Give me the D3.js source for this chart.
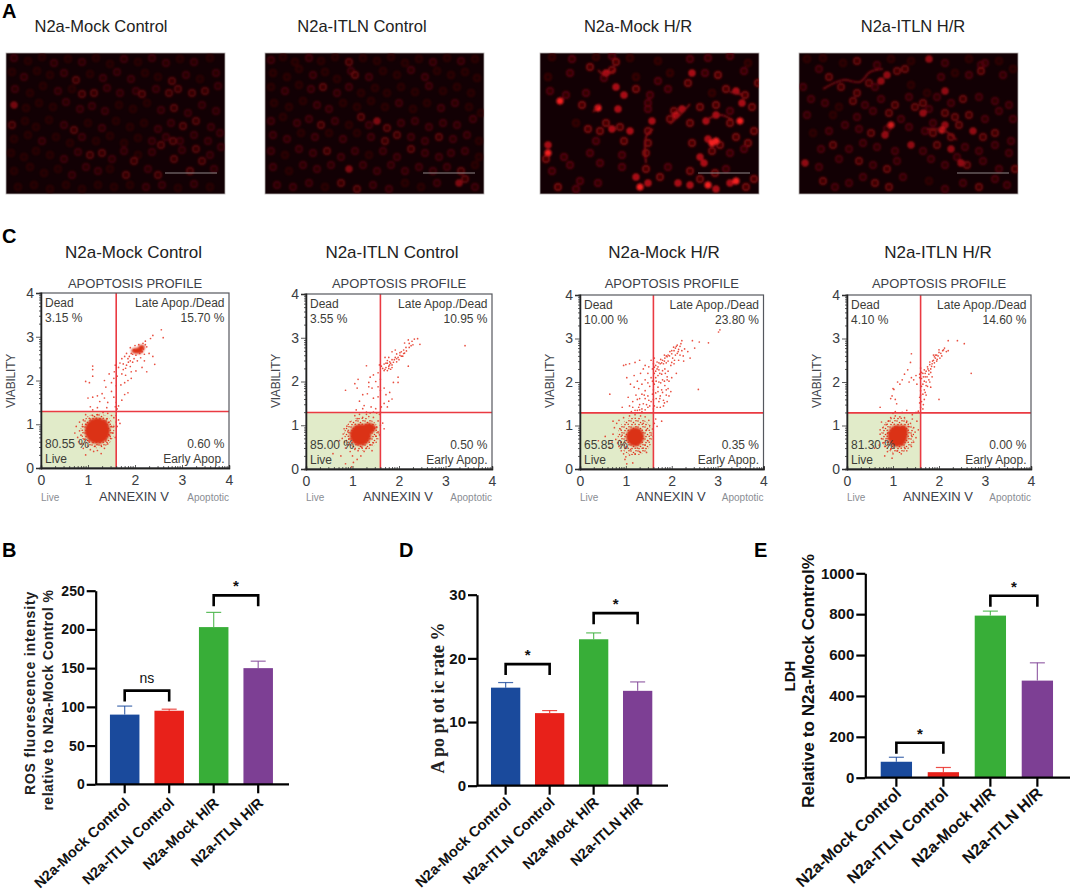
<!DOCTYPE html>
<meta charset="utf-8">
<script src="https://d3js.org/d3.v7.min.js"></script>
<style>
body { margin: 0; background: #fff; }
svg { display: block; }
text { font-family: "Liberation Sans", Arial, sans-serif; }
</style>
<div id="figure"></div>
<script>

const groups = ["N2a-Mock Control", "N2a-ITLN Control", "N2a-Mock H/R", "N2a-ITLN H/R"];
const barColors = ["#1a4a9c", "#e8211a", "#38ae38", "#7d3f94"];

// bar panels
const rosValues = [90, 95, 203, 150];
const rosErrors = [101, 97, 222, 159];
const rosTicks = [0, 50, 100, 150, 200, 250];
const rosBrackets = [[0, 1, 121, "ns"], [2, 3, 244, "*"]];

const apoValues = [15.4, 11.4, 23, 14.9];
const apoErrors = [16.2, 11.8, 24, 16.3];
const apoTicks = [0, 10, 20, 30];
const apoBrackets = [[0, 1, 19.1, "*"], [2, 3, 27.1, "*"]];

const ldhValues = [78, 27, 793, 475];
const ldhErrors = [100, 50, 815, 562];
const ldhTicks = [0, 200, 400, 600, 800, 1000];
const ldhBrackets = [[0, 1, 171, "*"], [2, 3, 890, "*"]];

// flow cytometry quadrant percentages: dead, late, live, early
const quadrants = [
  ["3.15 %", "15.70 %", "80.55 %", "0.60 %"],
  ["3.55 %", "10.95 %", "85.00 %", "0.50 %"],
  ["10.00 %", "23.80 %", "65.85 %", "0.35 %"],
  ["4.10 %", "14.60 %", "81.30 %", "0.00 %"]
];
const gateX = 1.6;
const gateY = 1.29;
const majorTicks = [0, 1, 2, 3, 4];
const minorTicks = [0.3, 0.48, 0.6, 0.7, 0.78, 0.85, 0.9, 0.95, 1.3, 1.48, 1.6, 1.7, 1.78, 1.85, 1.9, 1.95, 2.3, 2.48, 2.6, 2.7, 2.78, 2.85, 2.9, 2.95, 3.3, 3.48, 3.6, 3.7, 3.78, 3.85, 3.9, 3.95];

// speckled halo and solid centres of the clouds, cx cy rx ry
const halo1 = [[1.2, 0.85, 0.36, 0.4]];
const halo2 = [[1.2, 0.8, 0.38, 0.38]];
const halo3 = [[1.2, 0.75, 0.38, 0.44]];
const halo4 = [[1.1, 0.78, 0.36, 0.42]];
const clouds1 = [[1.2, 0.85, 0.27, 0.3], [1.3, 0.97, 0.14, 0.15], [2.05, 2.68, 0.13, 0.07], [2.14, 2.76, 0.07, 0.06]];
const clouds2 = [[1.17, 0.78, 0.23, 0.25], [1.35, 0.93, 0.15, 0.13]];
const clouds3 = [[1.2, 0.74, 0.2, 0.22]];
const clouds4 = [[1.1, 0.76, 0.22, 0.25], [1.22, 0.86, 0.11, 0.15]];

const dots1 = [[2.56,3.16],[2.6,2.98],[2.38,3.03],[2.33,2.96],[2.22,2.9],[2.25,2.77],[2.17,2.85],[2.3,2.62],[2.38,2.55],[2.42,2.37],[2.2,2.45],[2.12,2.52],[2.2,2.6],[2.08,2.82],[2,2.8],[1.9,2.75],[1.82,2.62],[1.78,2.55],[1.85,2.5],[1.9,2.45],[1.98,2.5],[1.72,2.5],[1.68,2.4],[1.75,2.38],[1.82,2.35],[1.9,2.32],[2.02,2.22],[2.15,2.3],[2.25,2.2],[1.65,2.3],[1.58,2.35],[1.56,2.2],[1.62,2.1],[1.72,2.15],[1.8,2.12],[1.85,2],[1.92,2.05],[1.78,1.95],[1.7,1.9],[1.6,1.88],[1.55,2.05],[1.45,2.15],[1.5,1.95],[1.35,2],[1.38,1.85],[1.1,2.33],[1.1,2.25],[1.1,2.1],[0.95,1.98],[1.03,1.95],[1,1.6],[1.1,1.62],[1.2,1.65],[1.3,1.7],[1.35,1.6],[1.25,1.52],[1.42,1.5],[1.5,1.75],[1.55,1.62],[1.6,1.5],[1.58,1.4],[1.65,1.42],[1.72,1.55],[1.78,1.68],[1.85,1.72],[1.62,1.35],[1.05,1.4],[1.2,1.38],[1.4,1.38],[1.1,1.33],
[0.75,0.95],[0.72,0.8],[0.78,0.7],[0.82,0.85],[0.8,0.6],[0.85,0.55],[0.9,0.45],[0.95,0.3],[1,0.5],[1.05,0.42],[1.12,0.38],[1.2,0.4],[1.28,0.33],[1.35,0.45],[1.42,0.55],[1.48,0.68],[1.52,0.8],[1.55,0.95],[1.6,1.05],[1.65,1.1],[1.68,1.02],[1.55,1.15],[1.5,1.2],[1.42,1.25],[1.32,1.27],[1.2,1.22],[1.1,1.2],[0.95,1.22],[0.9,1.1],[0.82,1.05],[0.88,0.95],[0.85,0.75],[0.92,0.65],[0.9,0.55],[1.05,1.12],[0.95,1],[1.45,1.05],[1.5,0.95],[1.45,0.75],[1.38,0.62],[1.28,0.52],[1.15,0.5],[1.02,0.62],[0.97,0.8],[0.98,0.92],[1.58,0.7],[1.62,0.95],[1.4,1.12],[1.25,1.12],[1.6,1.2],
[1.95,2.6],[1.98,2.7],[2.02,2.58],[2.1,2.62],[2.15,2.66],[1.92,2.62],[1.88,2.55],[2.18,2.72],[2.22,2.82],[1.95,2.42],[2.05,2.45],[1.86,2.42],[1.8,2.28],[1.92,2.2],[1.75,2.25]];

const dots2 = [[3.42,2.82],[2.4,2.98],[2.33,2.97],[2.45,2.85],[2.28,2.92],[2.22,2.87],[2.2,2.95],[2.12,2.88],[2.15,2.78],[2.22,2.78],[2.1,2.72],[2.05,2.68],[2.02,2.6],[2.08,2.58],[2.12,2.65],[1.98,2.55],[1.95,2.63],[1.92,2.72],[1.85,2.68],[1.9,2.5],[1.95,2.45],[1.85,2.5],[1.8,2.45],[1.75,2.42],[1.78,2.35],[1.85,2.38],[1.72,2.32],[1.68,2.25],[1.75,2.25],[1.82,2.28],[1.62,2.35],[1.68,2.4],[1.7,2.55],[1.78,2.55],[2.2,2.35],[1.98,2.1],[1.98,1.98],[1.88,1.98],[1.58,2.38],[1.3,2.36],[1.5,2],[1.45,2.15],[1.55,2.2],[1.6,2.05],[1.38,2.1],[1.35,1.98],[1.12,2.05],[1.05,1.95],[1.1,1.85],[0.85,1.8],[1.35,1.88],[1.42,1.85],[1.55,1.88],[1.6,1.8],[1.68,1.85],[1.72,1.7],[1.8,1.75],[1.85,1.6],[1.78,1.55],[1.68,1.5],[1.55,1.65],[1.45,1.62],[1.32,1.72],[1.22,1.7],[1.15,1.55],[1.25,1.45],[1.08,1.35],[1.15,1.25],[1.3,1.3],[1.4,1.42],[1.5,1.38],[1.62,1.42],[1.75,1.42],[1.58,1.25],[1.38,1.28],[1.22,1.38],
[0.8,0.8],[0.78,0.7],[0.83,0.62],[0.72,0.65],[0.85,0.48],[0.9,0.55],[0.95,0.4],[1,0.3],[1.05,0.45],[1.12,0.42],[1.18,0.3],[1.25,0.4],[1.3,0.48],[1.38,0.55],[1.45,0.6],[1.5,0.75],[1.55,0.85],[1.6,1],[1.65,1.05],[1.68,0.92],[1.55,1.1],[1.45,1.18],[1.35,1.2],[1.22,1.18],[1.1,1.15],[1.05,1.22],[0.95,1.08],[0.88,0.98],[0.82,0.92],[0.58,0.35],[0.75,0.3],[0.98,0.05],[0.85,0.12],[1.02,0.15],[1.1,0.22],[1.2,0.5],[1.42,0.42],[0.92,0.68],[0.9,0.85],[1.52,0.95],[1.58,0.78],[1.48,0.95],[1.3,1.25],
[1.8,2.38],[1.88,2.44],[1.92,2.55],[2,2.5],[2.05,2.58],[2.1,2.64],[1.75,2.48],[1.82,2.42],[1.7,2.28],[1.78,2.3],[1.65,2.3],[1.85,2.32],[1.72,2.42],[2.16,2.7],[2.26,2.82],[2.3,2.84],[2.02,2.66],[1.95,2.52],[1.6,1.3],[1.52,1.28],[1.45,1.3]];

const dots3 = [[3.05,3.2],[3.02,3.15],[2.8,2.9],[2.6,2.92],[2.45,2.95],[2.22,2.95],[2.2,2.88],[2.12,2.85],[2.08,2.78],[2.15,2.75],[2.22,2.72],[2.05,2.72],[2,2.65],[1.95,2.6],[2.02,2.55],[1.9,2.58],[1.85,2.55],[1.92,2.48],[1.8,2.5],[1.75,2.42],[1.82,2.42],[1.7,2.35],[1.65,2.38],[1.6,2.42],[1.58,2.3],[1.65,2.25],[1.72,2.28],[1.78,2.18],[1.85,2.3],[1.92,2.25],[1.98,2.38],[2.05,2.42],[2.15,2.5],[2.25,2.6],[2.4,2.55],[2.5,2.78],[2.35,2.7],[2.1,2.2],[2.58,1.83],[2,2.1],[1.9,2.05],[1.8,2.05],[1.72,2],[1.65,2.1],[1.62,1.95],[1.7,1.88],[1.78,1.82],[1.85,1.92],[1.92,1.85],[1.98,1.78],[1.88,1.7],[1.75,1.68],[1.65,1.75],[1.6,1.6],[1.72,1.55],[1.82,1.58],[1.9,1.55],[1.75,1.42],[1.62,1.45],[1.55,1.55],[1.48,1.68],[1.42,1.8],[1.35,1.72],[1.3,1.62],[1.38,1.5],[1.28,1.42],[1.2,1.35],[1.35,1.38],[1.48,1.42],[1.55,2.1],[1.48,2.2],[1.42,2.05],[1.32,2.2],[1.25,2.02],[1.18,2.15],[1.1,1.95],[1.02,2.1],[1,2.4],[0.95,2.38],[1.08,2.42],[1.2,2.45],[1.3,2.5],[1.42,2.38],[1.55,2.5],[1.62,2.55],[0.65,1.72],[1.05,1.65],[1.15,1.55],[1.22,1.7],[0.92,1.42],[1.35,1.32],[1.12,1.32],
[0.75,0.95],[0.72,0.8],[0.78,0.68],[0.82,0.6],[0.85,0.52],[0.7,0.62],[0.65,0.5],[0.9,0.42],[0.95,0.35],[1,0.28],[1.08,0.32],[1.15,0.14],[1.02,0.12],[0.98,0.22],[1.2,0.35],[1.3,0.4],[1.38,0.48],[1.42,0.55],[1.48,0.65],[1.55,0.78],[1.58,0.92],[1.62,1.05],[1.65,1.15],[1.5,1.12],[1.42,1.2],[1.32,1.22],[1.2,1.25],[1.08,1.22],[0.95,1.18],[0.85,1.12],[0.8,1.05],[0.88,0.92],[0.92,0.78],[0.9,0.62],[1,0.5],[1.1,0.45],[1.25,0.48],[1.45,0.9],[1.52,1],[1.38,1.05],[1.78,1.1],[1.68,0.98],[0.72,1.1],[1.45,0.38],[0.55,0.75],[0.4,0.65],
[1.92,2.62],[1.96,2.7],[1.88,2.6],[1.84,2.62],[2,2.72],[2.04,2.8],[2.1,2.82],[2.14,2.7],[2.18,2.82],[1.78,2.44],[1.84,2.48],[1.88,2.44],[1.76,2.52],[1.72,2.44],[1.68,2.46],[1.62,2.34],[1.68,2.3],[1.74,2.2],[1.8,2.26],[1.86,2.2],[1.9,2.12],[1.94,2.02],[1.84,2.02],[1.76,1.98],[1.66,2.02],[1.7,2.15],[1.62,2.2],[1.58,2.02],[1.52,1.9],[1.6,1.82],[1.7,1.78],[1.8,1.76],[1.88,1.82],[1.94,1.68],[1.84,1.52],[1.74,1.62],[1.66,1.62],[1.58,1.72],[1.5,1.58],[1.42,1.62],[1.45,1.48],[1.4,1.7],[1.3,1.48],[1.25,1.35],[1.3,1.36],[1.42,1.36],[1.52,1.45],[1.6,1.38],[1.68,1.42],[1.82,1.45],[1.35,1.95],[1.28,1.85],[1.18,1.88],[1.48,1.98],[1.38,2.3],[1.5,2.35],[2.08,2.62],[2.12,2.66],[2.06,2.5],[2,2.45],[2.26,2.48],[2.18,2.62],[2.28,2.76],[1.15,1.42],[1.25,1.6],[1.08,1.45]];

const dots4 = [[2.7,2.2],[2.55,2.88],[2.4,2.95],[2.2,2.95],[2.12,2.78],[2.2,2.72],[2.08,2.72],[2,2.68],[1.95,2.62],[2.02,2.55],[1.9,2.58],[1.88,2.5],[1.95,2.48],[1.85,2.42],[1.9,2.35],[1.8,2.4],[1.82,2.3],[1.75,2.35],[1.72,2.25],[1.78,2.18],[1.68,2.28],[1.65,2.2],[1.6,2.32],[1.58,2.18],[1.62,2.08],[1.7,2.12],[1.78,2.05],[1.85,2.12],[1.72,2],[1.65,1.95],[1.75,1.9],[1.82,1.88],[1.68,1.82],[1.6,1.8],[1.65,1.72],[1.72,1.7],[1.58,1.65],[1.62,1.55],[1.68,1.6],[1.6,1.42],[1.65,1.38],[2,1.6],[1.5,2.15],[1.45,2.05],[1.52,1.95],[1.4,2.1],[1.35,2],[1.2,2.05],[1.25,2.18],[1.1,2],[1.15,1.95],[1.02,1.83],[1,1.85],[0.98,1.68],[1.05,1.6],[1.08,1.5],[0.95,1.62],[0.72,1.42],[1.38,2.45],[1.4,2.65],[1.32,2.28],[1.3,1.35],[1.5,1.3],[1.2,1.3],[1.05,1.32],[1,1.28],[1.55,1.33],[1.42,1.25],
[0.72,0.8],[0.75,0.7],[0.78,0.6],[0.82,0.52],[0.72,0.9],[0.78,0.95],[0.85,1.02],[0.9,1.1],[0.75,1.08],[0.95,1.18],[1.05,1.22],[1.15,1.2],[1.25,1.18],[1.3,1.1],[1.38,1.05],[1.45,0.95],[1.48,0.85],[1.5,0.72],[1.45,0.62],[1.4,0.52],[1.3,0.42],[1.25,0.5],[1.18,0.35],[1.1,0.42],[1,0.35],[0.95,0.45],[0.88,0.4],[0.82,0.3],[0.98,0.25],[0.7,0.55],[0.6,0.48],[1.55,0.9],[1.52,1.1],[1.42,1.15],[1.33,0.98],[1.4,0.78],[0.9,0.62],[0.88,0.82],[0.85,0.7],
[1.86,2.48],[1.92,2.55],[1.98,2.6],[2.04,2.66],[1.96,2.52],[1.9,2.44],[1.84,2.36],[1.8,2.46],[1.76,2.3],[1.82,2.22],[1.7,2.2],[1.74,2.12],[1.66,2.12],[1.62,2.22],[1.58,2.1],[1.68,2.02],[1.8,2],[1.72,1.92],[1.62,1.9],[1.7,1.76],[1.6,1.7],[1.66,1.48],[1.58,1.52],[1.78,2.26],[1.92,2.62],[2.1,2.74],[2.16,2.7],[2,2.74],[1.88,2.62],[2.06,2.6]];

// micrograph cells, x y brightness, image size 219 x 141
const cells1 = [[8,5,2],[22,8,1],[36,4,1],[48,10,2],[62,6,1],[76,9,2],[90,5,1],[104,11,1],[118,6,2],[132,9,1],[146,5,2],[160,10,2],[174,6,1],[188,9,2],[204,5,1],[6,19,1],[18,24,2],[31,18,1],[44,22,1],[58,20,2],[70,27,3],[84,21,1],[97,25,2],[111,19,2],[125,26,2],[139,20,1],[152,24,1],[166,28,3],[180,22,2],[194,26,1],[210,20,2],[9,36,2],[24,40,1],[37,33,1],[52,38,2],[66,36,1],[76,41,3],[88,40,3],[101,35,2],[114,40,2],[130,38,2],[136,41,3],[150,36,2],[163,40,3],[172,36,3],[186,40,3],[199,38,3],[212,33,2],[8,52,4],[20,55,1],[33,50,1],[47,54,1],[60,49,2],[74,56,2],[86,53,2],[99,58,2],[113,52,1],[127,56,1],[141,50,1],[155,57,2],[168,55,3],[182,60,2],[196,52,2],[210,58,2],[6,72,3],[19,68,1],[30,74,1],[43,67,1],[58,72,2],[68,77,3],[82,70,1],[96,75,2],[110,68,1],[124,74,1],[138,70,1],[152,76,2],[165,70,2],[177,73,3],[190,68,3],[205,74,2],[8,86,1],[22,82,1],[36,88,2],[50,84,1],[64,90,1],[76,84,2],[90,88,1],[104,83,1],[118,90,1],[132,85,1],[146,88,2],[160,84,2],[174,88,2],[188,82,2],[202,88,2],[214,80,2],[5,100,1],[18,104,1],[30,98,1],[44,102,1],[58,106,2],[72,99,2],[84,102,3],[96,100,3],[106,106,2],[118,98,2],[132,102,1],[146,99,2],[155,92,3],[167,88,3],[176,97,2],[190,96,3],[204,102,2],[215,94,2],[8,118,1],[24,114,1],[38,120,1],[52,116,1],[66,122,2],[80,114,2],[92,118,2],[104,116,1],[120,122,3],[128,108,3],[142,116,2],[152,122,3],[168,106,3],[184,118,3],[196,108,3],[208,116,2],[12,134,1],[28,132,1],[44,136,1],[60,132,1],[76,136,1],[92,132,1],[108,134,1],[124,132,1],[140,134,2],[156,132,2],[172,135,1],[188,131,2],[204,134,1]];

const cells2 = [[6,7,2],[18,4,1],[30,9,1],[44,5,2],[56,8,1],[70,4,1],[84,9,3],[98,5,1],[112,8,1],[126,4,1],[140,10,1],[154,6,1],[168,9,2],[182,5,1],[196,8,2],[210,6,1],[8,20,1],[22,24,1],[34,16,1],[48,22,2],[60,19,1],[72,26,1],[86,18,2],[90,22,3],[104,24,2],[118,18,1],[132,22,1],[146,17,2],[160,24,2],[172,18,1],[186,22,1],[200,19,1],[212,25,1],[6,34,1],[20,38,2],[34,32,1],[46,36,2],[58,34,3],[72,40,2],[84,34,2],[96,40,1],[110,35,1],[122,40,1],[136,34,1],[150,39,1],[164,33,2],[178,38,1],[192,34,1],[206,40,1],[9,50,1],[24,54,1],[38,48,1],[52,52,2],[64,56,2],[78,50,1],[92,54,1],[106,48,1],[120,54,1],[134,50,2],[148,56,1],[162,50,1],[176,55,2],[190,50,2],[204,54,1],[216,60,1],[6,68,2],[18,64,1],[32,70,2],[44,66,2],[56,72,3],[70,68,2],[84,72,1],[96,64,3],[104,72,2],[112,68,4],[122,75,3],[136,70,2],[150,68,2],[132,82,3],[164,74,2],[178,70,2],[192,72,2],[208,66,2],[8,82,2],[22,86,2],[36,80,1],[50,84,2],[64,80,1],[78,86,2],[92,80,1],[106,84,2],[120,88,3],[146,84,2],[160,88,2],[174,84,3],[188,86,2],[202,82,2],[214,88,1],[6,98,2],[20,102,1],[34,96,2],[48,100,2],[62,98,3],[76,104,2],[90,98,2],[104,102,1],[118,98,2],[132,104,2],[146,96,3],[160,100,2],[174,104,2],[186,100,2],[200,98,2],[214,104,1],[8,114,2],[24,118,1],[38,112,2],[52,116,2],[66,112,2],[84,116,4],[98,112,2],[112,118,2],[126,112,2],[140,118,2],[154,114,2],[168,118,2],[182,114,2],[196,118,3],[210,112,1],[12,132,2],[28,134,2],[44,130,2],[60,134,1],[76,130,3],[92,136,3],[108,132,2],[124,136,2],[140,130,1],[156,134,1],[172,130,2],[194,130,4],[200,126,3],[210,134,2]];

const cells3 = [[12,4,1],[32,6,2],[56,4,1],[72,3,2],[76,9,3],[90,5,1],[118,8,1],[150,6,2],[168,5,2],[190,3,2],[208,10,1],[8,24,1],[30,20,2],[50,14,3],[64,25,2],[72,17,3],[66,20,4],[96,24,1],[130,20,1],[152,20,4],[165,20,2],[178,22,3],[204,18,2],[218,30,3],[10,38,2],[26,42,2],[46,40,2],[76,34,4],[84,42,4],[96,36,3],[110,42,2],[118,28,2],[128,36,2],[148,30,3],[172,40,1],[186,36,3],[196,38,4],[205,42,3],[20,48,5],[42,52,3],[58,55,5],[78,56,4],[108,56,2],[108,50,2],[134,58,3],[142,56,4],[160,54,3],[176,52,3],[190,58,2],[202,50,4],[212,54,3],[36,70,1],[48,76,3],[66,70,3],[72,76,4],[80,74,3],[90,78,4],[112,68,4],[108,78,3],[130,66,3],[136,62,4],[150,70,3],[166,68,4],[176,62,4],[190,70,3],[200,68,5],[214,78,3],[56,88,2],[60,78,3],[84,88,3],[108,90,3],[106,100,3],[152,90,3],[168,86,4],[180,92,3],[196,84,3],[208,90,3],[8,92,4],[8,100,5],[6,106,3],[24,104,2],[50,100,2],[82,102,2],[172,98,3],[160,104,4],[172,90,5],[176,88,5],[190,100,2],[204,96,2],[12,118,2],[30,112,2],[60,110,2],[82,114,2],[106,116,3],[128,114,2],[150,118,3],[164,110,4],[175,120,3],[186,116,2],[40,128,2],[18,134,3],[36,136,2],[58,130,2],[96,124,4],[100,134,5],[108,130,4],[120,124,3],[138,130,4],[150,132,4],[160,126,3],[168,132,5],[176,136,4],[190,130,4],[196,128,5],[206,134,3],[214,126,3]];

const cells4 = [[8,6,1],[24,5,1],[44,10,1],[58,8,3],[78,12,2],[92,6,1],[112,8,1],[130,6,4],[146,10,2],[170,6,1],[182,12,2],[200,8,1],[214,16,1],[4,34,2],[20,16,2],[30,24,3],[42,34,3],[58,40,3],[70,30,3],[76,34,2],[82,28,4],[88,22,4],[98,18,3],[106,16,3],[112,32,1],[128,40,1],[142,24,2],[156,20,1],[170,22,2],[182,18,3],[186,10,2],[204,22,2],[12,46,2],[26,50,2],[40,54,1],[54,48,3],[66,52,2],[82,46,2],[96,52,3],[110,44,2],[124,50,3],[138,44,2],[146,38,4],[152,50,2],[164,46,3],[180,44,2],[196,48,2],[210,52,2],[8,62,2],[34,62,1],[58,64,2],[74,58,2],[90,60,3],[102,66,2],[116,54,3],[130,56,2],[124,60,4],[134,70,2],[146,60,3],[156,64,3],[170,62,3],[186,66,2],[200,58,2],[214,66,2],[14,80,1],[30,78,2],[46,72,2],[60,76,2],[72,80,3],[88,76,2],[92,72,5],[86,82,4],[110,74,2],[126,78,2],[134,80,3],[143,77,5],[146,72,4],[152,84,3],[160,72,3],[174,78,4],[184,84,3],[196,80,3],[212,88,2],[22,96,2],[34,92,3],[50,96,2],[64,90,2],[78,94,2],[96,98,2],[112,92,4],[124,98,2],[138,92,3],[152,96,4],[166,94,2],[180,98,2],[196,92,2],[210,100,2],[6,110,4],[20,114,2],[40,106,2],[60,108,3],[74,112,2],[88,116,3],[98,108,2],[132,106,2],[146,112,2],[158,104,2],[162,110,4],[168,112,3],[184,108,2],[200,116,2],[216,116,3],[24,128,3],[36,134,2],[50,130,2],[64,124,2],[76,130,3],[90,134,3],[104,124,2],[130,128,1],[146,136,2],[164,130,2],[180,134,3],[196,126,2],[208,132,2]];

// strands of connected bright cells
const chains3 = [[[106,110],[106,84],[113,76]],[[58,17],[65,22],[76,16]],[[130,71],[140,62],[150,51]],[[166,67],[180,62],[193,67]],[[190,39],[203,42]],[[53,59],[60,51]]];
const chains4 = [[[24,36],[44,27],[61,29],[71,19],[84,16]],[[159,110],[167,111]],[[128,76],[144,77],[158,87]]];
const chains1 = [];
const chains2 = [];

const imagePanels = [
  {cells: cells1, chains: chains1, x: 6, bar: 159, fade: 0.62},
  {cells: cells2, chains: chains2, x: 265, bar: 158, fade: 0.68},
  {cells: cells3, chains: chains3, x: 540, bar: 158, fade: 0.95},
  {cells: cells4, chains: chains4, x: 799, bar: 158, fade: 0.8}
];

const svg = d3.select("#figure").append("svg")
  .attr("width", 1072)
  .attr("height", 892);

const defs = svg.append("defs");
defs.append("filter").attr("id", "soft")
  .attr("x", "-5%").attr("y", "-5%").attr("width", "110%").attr("height", "110%")
  .append("feGaussianBlur").attr("stdDeviation", 1.05);
defs.append("filter").attr("id", "cloudEdge")
  .append("feGaussianBlur").attr("stdDeviation", 0.8);
const speckle = defs.append("pattern").attr("id", "speckle")
  .attr("patternUnits", "userSpaceOnUse").attr("width", 7).attr("height", 6);
[[1, 1], [3.5, 2.5], [6, 0.8], [2, 4.6], [5.2, 4.2]].forEach(d => {
  speckle.append("circle").attr("cx", d[0]).attr("cy", d[1]).attr("r", 0.8).attr("fill", "#dd3018");
});

function panelLetter(txt, x, y) {
  svg.append("text").attr("x", x).attr("y", y)
    .attr("font-size", 20).attr("font-weight", 700).attr("fill", "#000").text(txt);
}

panelLetter("A", 2, 18);
panelLetter("C", 2, 243);
panelLetter("B", 2, 557);
panelLetter("D", 399, 557);
panelLetter("E", 754, 557);

// A: micrographs
const imgW = 219, imgH = 141;
const brightness = d3.scaleLinear().domain([1, 2, 3, 4, 5]).range(["#480308", "#6a050b", "#9c0c12", "#d8161c", "#ff2424"]);
const titleCentersA = [101, 362, 638, 913];

imagePanels.forEach((p, i) => {
  svg.append("text").attr("x", titleCentersA[i]).attr("y", 32)
    .attr("text-anchor", "middle").attr("font-size", 16.5).attr("fill", "#222")
    .text(groups[i]);

  const g = svg.append("g").attr("transform", `translate(${p.x},53)`);
  const cx = d3.scaleLinear().domain([0, 219]).range([0, imgW]);
  const cy = d3.scaleLinear().domain([0, 141]).range([0, imgH]);

  g.append("rect").attr("width", imgW).attr("height", imgH)
    .attr("fill", "#120004").attr("stroke", "#b5b0b0").attr("stroke-width", 0.8);

  const clipId = `imgClip${i}`;
  defs.append("clipPath").attr("id", clipId).append("rect").attr("width", imgW).attr("height", imgH);

  const inner = g.append("g").attr("clip-path", `url(#${clipId})`)
    .append("g").attr("filter", "url(#soft)").attr("opacity", p.fade);

  inner.selectAll("circle").data(p.cells).join("circle")
    .attr("cx", d => cx(d[0]))
    .attr("cy", d => cy(d[1]))
    .attr("r", d => d[2] >= 4 ? 2.8 : 3.2)
    .attr("fill", d => brightness(d[2]))
    .attr("fill-opacity", d => d[2] >= 5 ? 1 : (d[2] >= 4 ? 0.7 : 0.3))
    .attr("stroke", d => brightness(d[2]))
    .attr("stroke-width", 1.4);

  inner.selectAll("path").data(p.chains).join("path")
    .attr("d", d => d3.line().x(c => cx(c[0])).y(c => cy(c[1])).curve(d3.curveCatmullRom)(d))
    .attr("fill", "none")
    .attr("stroke", "#a01016")
    .attr("stroke-width", 1.6);

  g.append("line")
    .attr("x1", p.bar).attr("x2", p.bar + 52)
    .attr("y1", 120).attr("y2", 120)
    .attr("stroke", "#8f8688").attr("stroke-width", 1);
});

// C: apoptosis profiles
const profiles = [
  {x0: 41, x1: 229, y1: 293, y0: 468, dots: dots1, clouds: clouds1, halo: halo1, title: 133.5, viab: 15},
  {x0: 306, x1: 492, y1: 294, y0: 469, dots: dots2, clouds: clouds2, halo: halo2, title: 392, viab: 280},
  {x0: 580, x1: 763.5, y1: 295, y0: 469, dots: dots3, clouds: clouds3, halo: halo3, title: 664, viab: 554},
  {x0: 847, x1: 1031, y1: 295, y0: 469, dots: dots4, clouds: clouds4, halo: halo4, title: 938, viab: 821}
];

profiles.forEach((p, i) => {
  const x = d3.scaleLinear().domain([0, 4]).range([p.x0, p.x1]);
  const y = d3.scaleLinear().domain([0, 4]).range([p.y0, p.y1]);
  const g = svg.append("g");

  g.append("text").attr("x", p.title).attr("y", 258)
    .attr("text-anchor", "middle").attr("font-size", 17).attr("fill", "#222")
    .text(groups[i]);
  g.append("text").attr("x", (p.x0 + p.x1) / 2).attr("y", 288)
    .attr("text-anchor", "middle").attr("font-size", 13).attr("fill", "#3c4048")
    .text("APOPTOSIS PROFILE");

  g.append("rect").attr("x", x(0)).attr("y", y(gateY))
    .attr("width", x(gateX) - x(0)).attr("height", y(0) - y(gateY))
    .attr("fill", "#e1ebc9");

  g.append("g").selectAll("ellipse").data(p.halo).join("ellipse")
    .attr("cx", d => x(d[0]))
    .attr("cy", d => y(d[1]))
    .attr("rx", d => x(d[2]) - x(0))
    .attr("ry", d => y(0) - y(d[3]))
    .attr("fill", "url(#speckle)");

  g.append("g").attr("filter", "url(#cloudEdge)")
    .selectAll("ellipse").data(p.clouds).join("ellipse")
    .attr("cx", d => x(d[0]))
    .attr("cy", d => y(d[1]))
    .attr("rx", d => x(d[2]) - x(0))
    .attr("ry", d => y(0) - y(d[3]))
    .attr("fill", "#db3114");

  g.append("g").selectAll("circle").data(p.dots).join("circle")
    .attr("cx", d => x(d[0]))
    .attr("cy", d => y(d[1]))
    .attr("r", 0.85)
    .attr("fill", "#e5301f")
    .attr("opacity", 0.85);

  g.append("line").attr("x1", x(gateX)).attr("x2", x(gateX)).attr("y1", y(4)).attr("y2", y(0))
    .attr("stroke", "#ea3a42").attr("stroke-width", 1.6);
  g.append("line").attr("x1", x(0)).attr("x2", x(4)).attr("y1", y(gateY)).attr("y2", y(gateY))
    .attr("stroke", "#ea3a42").attr("stroke-width", 1.6);

  g.append("rect").attr("x", x(0)).attr("y", y(4))
    .attr("width", x(4) - x(0)).attr("height", y(0) - y(4))
    .attr("fill", "none").attr("stroke", "#55585e").attr("stroke-width", 1.2);

  // axes, minor ticks point into the plot
  const xMinor = g.append("g").attr("transform", `translate(0,${y(0)})`)
    .call(d3.axisBottom(x).tickValues(minorTicks).tickSize(-2).tickFormat(""));
  const xMajor = g.append("g").attr("transform", `translate(0,${y(0)})`)
    .call(d3.axisBottom(x).tickValues(majorTicks).tickSize(-3).tickPadding(7).tickFormat(d3.format("d")));
  const yMinor = g.append("g").attr("transform", `translate(${x(0)},0)`)
    .call(d3.axisLeft(y).tickValues(minorTicks).tickSize(2).tickFormat(""));
  const yMajor = g.append("g").attr("transform", `translate(${x(0)},0)`)
    .call(d3.axisLeft(y).tickValues(majorTicks).tickSize(5).tickPadding(2).tickFormat(d3.format("d")));
  [xMinor, xMajor, yMinor, yMajor].forEach(a => {
    a.select(".domain").attr("stroke", "#222").attr("stroke-width", 1.3);
    a.selectAll(".tick line").attr("stroke", "#333").attr("stroke-width", 0.8);
    a.selectAll("text").attr("font-size", 14).attr("fill", "#3a3d42")
      .style("font-family", '"Liberation Sans", Arial, sans-serif');
  });

  const label = (txt, lx, ly, anchor) => g.append("text")
    .attr("x", lx).attr("y", ly).attr("text-anchor", anchor)
    .attr("font-size", 12).attr("fill", "#3d3d38").text(txt);
  const right = x(4) - 4.5, left = x(0) + 4;
  label("Dead", left, y(4) + 14, "start");
  label(quadrants[i][0], left, y(4) + 29, "start");
  label("Late Apop./Dead", right, y(4) + 14, "end");
  label(quadrants[i][1], right, y(4) + 29, "end");
  label(quadrants[i][2], left, y(0) - 20, "start");
  label("Live", left, y(0) - 5, "start");
  label(quadrants[i][3], right, y(0) - 20, "end");
  label("Early Apop.", right, y(0) - 5, "end");

  g.append("text").attr("x", x(0)).attr("y", 501).attr("font-size", 10).attr("fill", "#8a8d93").text("Live");
  g.append("text").attr("x", x(4)).attr("y", 501).attr("text-anchor", "end").attr("font-size", 10).attr("fill", "#8a8d93").text("Apoptotic");
  g.append("text").attr("x", x(2) - 1).attr("y", 501).attr("text-anchor", "middle").attr("font-size", 13).attr("fill", "#3c4048").text("ANNEXIN V");
  g.append("text").attr("transform", `translate(${p.viab},381) rotate(-90)`)
    .attr("text-anchor", "middle").attr("font-size", 12).attr("letter-spacing", -0.2).attr("fill", "#44474d").text("VIABILITY");
});

// B, D, E: bar panels
function barPanel(o) {
  const x = d3.scaleBand().domain(groups)
    .range([o.left, o.left + o.step * (4 - o.inner + 2 * o.outer)])
    .paddingInner(o.inner).paddingOuter(o.outer);
  const y = d3.scaleLinear().domain([0, o.ticks[o.ticks.length - 1]]).range([o.bottom, o.top]);
  const g = svg.append("g");
  const cap = 7.5;

  groups.forEach((name, i) => {
    const cxm = x(name) + x.bandwidth() / 2;
    g.append("line").attr("x1", cxm).attr("x2", cxm).attr("y1", y(o.values[i])).attr("y2", y(o.errors[i]))
      .attr("stroke", barColors[i]).attr("stroke-opacity", 0.8).attr("stroke-width", 1.2);
    g.append("line").attr("x1", cxm - cap).attr("x2", cxm + cap).attr("y1", y(o.errors[i])).attr("y2", y(o.errors[i]))
      .attr("stroke", barColors[i]).attr("stroke-opacity", 0.8).attr("stroke-width", 1.2);
    g.append("rect").attr("x", x(name)).attr("y", y(o.values[i]))
      .attr("width", x.bandwidth()).attr("height", y(0) - y(o.values[i]))
      .attr("fill", barColors[i]);
  });

  const yAxis = g.append("g").attr("transform", `translate(${o.left},0)`)
    .call(d3.axisLeft(y).tickValues(o.ticks).tickSize(9).tickPadding(2).tickSizeOuter(0).tickFormat(d3.format("d")));
  const xAxis = g.append("g").attr("transform", `translate(0,${y(0)})`)
    .call(d3.axisBottom(x).tickSize(9).tickSizeOuter(0));

  xAxis.select(".domain").attr("d", `M${o.left},0H${o.right}`);
  [yAxis, xAxis].forEach(a => {
    a.select(".domain").attr("stroke", "#000").attr("stroke-width", 2.2);
    a.selectAll(".tick line").attr("stroke", "#000").attr("stroke-width", 2.2);
  });
  yAxis.selectAll("text").attr("font-size", o.tickSize).attr("font-weight", 700).attr("fill", "#111")
    .style("font-family", '"Liberation Sans", Arial, sans-serif');
  xAxis.selectAll("text")
    .attr("font-size", o.labelSize).attr("font-weight", 700).attr("fill", "#111")
    .attr("text-anchor", "end")
    .attr("dx", 0).attr("dy", 0)
    .attr("y", 0)
    .attr("transform", `translate(${o.labelShift},${o.labelDrop}) rotate(-43)`)
    .style("font-family", '"Liberation Sans", Arial, sans-serif');

  o.brackets.forEach(b => {
    const x1 = x(groups[b[0]]) + x.bandwidth() / 2, x2 = x(groups[b[1]]) + x.bandwidth() / 2;
    g.append("path")
      .attr("d", d3.line()([[x1, y(b[2]) + 11], [x1, y(b[2])], [x2, y(b[2])], [x2, y(b[2]) + 11]]))
      .attr("fill", "none").attr("stroke", "#000").attr("stroke-width", 2.6);
    g.append("text").attr("x", (x1 + x2) / 2).attr("y", y(b[2]) + (b[3] === "ns" ? -8 : -4))
      .attr("text-anchor", "middle").attr("font-size", b[3] === "ns" ? 14 : 15)
      .attr("font-weight", b[3] === "ns" ? 400 : 700).attr("fill", "#111").text(b[3]);
  });
}

barPanel({
  values: rosValues, errors: rosErrors, ticks: rosTicks, brackets: rosBrackets,
  left: 95.7, right: 289, step: 44.5, inner: 0.337, outer: 0.32, top: 590.7, bottom: 784.3,
  tickSize: 14, labelSize: 14.5, labelDrop: 20, labelShift: 6
});
svg.append("text").attr("transform", "translate(35,693) rotate(-90)")
  .attr("text-anchor", "middle").attr("font-size", 14).attr("font-weight", 700).attr("letter-spacing", 0.85).attr("fill", "#222")
  .text("ROS fluorescence intensity");
svg.append("text").attr("transform", "translate(53,700) rotate(-90)")
  .attr("text-anchor", "middle").attr("font-size", 14).attr("font-weight", 700).attr("letter-spacing", 0.5).attr("fill", "#222")
  .text("relative to N2a-Mock Control %");

barPanel({
  values: apoValues, errors: apoErrors, ticks: apoTicks, brackets: apoBrackets,
  left: 477, right: 668, step: 44, inner: 0.334, outer: 0.318, top: 594.7, bottom: 785.7,
  tickSize: 15, labelSize: 14.5, labelDrop: 18, labelShift: 6
});
svg.append("text").attr("transform", "translate(444,698) rotate(-90)")
  .attr("text-anchor", "middle").attr("font-size", 18).attr("font-weight", 700)
  .style("font-family", '"Liberation Serif", serif').attr("fill", "#222")
  .text("A po pt ot ic rate %");

barPanel({
  values: ldhValues, errors: ldhErrors, ticks: ldhTicks, brackets: ldhBrackets,
  left: 865.3, right: 1070, step: 47, inner: 0.334, outer: 0.328, top: 573.3, bottom: 777.7,
  tickSize: 15, labelSize: 16, labelDrop: 17, labelShift: 6
});
svg.append("text").attr("transform", "translate(795,676) rotate(-90)")
  .attr("text-anchor", "middle").attr("font-size", 15).attr("font-weight", 700).attr("fill", "#111").text("LDH");
svg.append("text").attr("transform", "translate(814,681) rotate(-90)")
  .attr("text-anchor", "middle").attr("font-size", 17.2).attr("font-weight", 700).attr("fill", "#111")
  .text("Relative to N2a-Mock Control%");

</script>
